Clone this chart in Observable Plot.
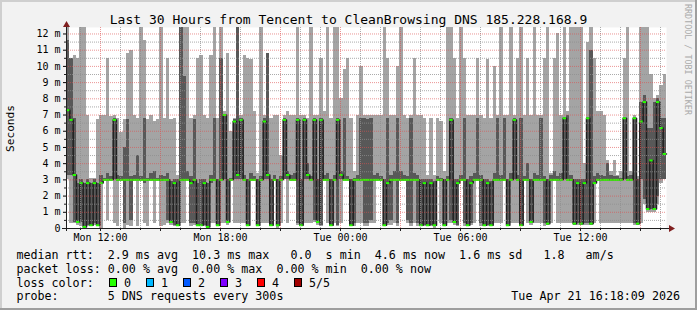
<!DOCTYPE html>
<html>
<head>
<meta charset="utf-8">
<script src="https://cdn.jsdelivr.net/npm/d3@7"></script>
<script src="https://cdn.jsdelivr.net/npm/@observablehq/plot@0.6"></script>
<style>
  html, body { margin: 0; padding: 0; background: #f2f2f2; }
  svg text { white-space: pre; }
</style>
</head>
<body>
<div id="chart"></div>
<script>
// 10-minute steps, Mon 2026-04-20 10:18 UTC .. Tue 2026-04-21 16:18 UTC
const startTime = Date.UTC(2026, 3, 20, 10, 18);
const endTime = Date.UTC(2026, 3, 21, 16, 18);
const STEP = 10 * 60 * 1000;

// ping 1 (min), ping 2, median, ping 4, ping 5 (max) in ms
const pMin = [
3.0,0.3,0.3,0.2,0.1,0.1,0.1,0.1,0.2,0.1,
0.0,3.0,0.5,3.0,0.3,0.1,3.0,0.0,0.2,0.1,
3.0,0.1,3.0,0.3,0.1,3.0,0.3,3.0,0.1,0.2,
0.3,0.2,0.1,0.1,0.3,0.3,3.0,0.1,0.2,0.1,
0.1,0.1,0.1,0.3,0.3,0.1,0.3,0.3,0.2,3.0,
0.3,0.3,0.3,0.3,0.1,3.0,3.0,0.1,0.3,0.3,
0.3,0.1,3.0,0.0,0.3,3.0,0.3,3.0,3.0,0.2,
0.1,0.3,0.3,0.3,0.4,0.2,0.1,3.0,0.3,0.1,
0.3,0.1,0.3,3.0,3.0,0.1,0.1,0.3,0.3,0.1,
0.1,0.3,0.3,3.0,3.0,0.1,0.2,0.2,0.3,0.1,
3.0,3.0,0.3,0.1,0.3,0.1,0.1,0.1,0.1,0.1,
0.0,3.0,0.3,0.1,0.3,0.3,0.2,0.1,3.0,0.1,
0.1,0.2,0.3,3.0,0.1,0.1,0.1,0.1,0.3,0.3,
0.3,3.0,0.1,0.3,0.3,0.3,0.1,3.0,0.3,0.2,
0.3,0.3,0.3,0.1,0.2,0.3,3.0,0.3,0.3,0.3,
0.3,0.3,0.2,0.2,0.2,0.2,0.2,0.2,0.3,3.0,
0.3,0.3,0.3,0.3,0.3,0.3,0.3,0.3,0.3,0.3,
0.2,0.2,0.3,1.5,1.0,1.0,1.0,1.5,2.8,3.0];
const p2 = [
3.3,3.3,0.4,0.4,0.4,0.1,0.2,0.2,0.3,0.2,
2.8,3.0,2.9,3.0,3.0,2.9,3.0,0.3,3.0,0.5,
3.0,3.0,3.0,2.8,2.9,3.0,3.0,3.0,2.9,3.0,
0.5,0.3,0.2,0.2,3.0,2.9,3.0,0.3,0.3,0.2,
0.2,0.2,0.1,2.8,3.0,0.2,3.0,3.0,0.4,3.0,
3.0,3.0,3.0,3.0,0.2,3.0,3.0,0.2,2.9,3.0,
3.0,0.2,3.0,0.2,3.0,3.0,3.0,3.0,3.0,0.3,
0.2,3.0,3.0,3.0,0.5,0.4,0.2,3.0,3.0,0.2,
3.0,0.2,3.0,3.0,3.0,0.2,0.3,3.0,3.0,0.3,
0.3,0.5,2.9,3.0,3.0,0.2,0.3,0.5,3.0,0.3,
3.0,3.0,0.5,0.3,3.0,0.3,0.2,0.2,0.2,0.2,
0.2,3.0,2.9,0.2,3.0,0.5,0.4,0.2,3.0,0.3,
0.2,0.3,3.0,3.0,0.3,0.2,0.2,0.2,3.0,3.0,
3.0,3.0,0.2,3.0,3.0,3.0,0.2,3.0,2.9,0.4,
3.0,3.0,3.0,0.3,0.3,3.0,3.0,2.9,3.0,3.0,
3.0,2.9,0.3,0.3,0.3,0.3,0.3,0.3,2.8,3.0,
3.0,3.0,3.0,3.0,3.0,3.0,3.0,3.0,3.0,3.0,
0.3,0.3,3.0,1.8,1.2,1.2,1.2,2.0,3.0,3.0];
const pMed = [
7.3,6.7,3.3,0.4,2.8,0.1,2.8,0.2,2.8,0.2,
2.8,3.0,3.0,3.0,6.7,3.0,3.0,3.0,3.0,3.0,
3.0,3.0,3.0,3.0,3.0,3.0,3.0,3.0,3.0,3.0,
3.0,0.4,2.8,0.2,3.0,3.0,3.0,2.8,3.0,0.2,
0.2,2.8,0.1,3.0,3.0,0.2,3.0,7.0,0.4,3.0,
6.6,3.3,6.7,3.0,0.2,3.0,3.0,0.2,3.0,6.6,
3.3,0.2,3.0,0.2,3.0,6.7,3.3,3.0,3.0,6.7,
0.2,6.7,3.3,3.0,6.7,0.4,6.7,3.0,3.0,0.2,
3.0,6.7,3.3,3.0,3.0,0.2,3.0,3.0,3.0,3.0,
3.0,3.0,3.0,3.0,3.0,0.2,2.8,3.0,3.0,3.0,
3.0,3.0,3.0,3.0,3.0,3.0,0.2,2.8,0.2,2.8,
0.2,3.0,3.0,0.2,3.0,6.7,0.4,2.8,3.0,3.0,
0.2,2.8,3.0,3.0,3.0,0.2,2.8,0.2,3.0,3.0,
3.0,3.0,0.2,3.0,6.7,3.0,0.2,3.0,3.0,0.4,
3.0,3.0,3.0,3.0,0.3,3.0,3.0,3.0,3.0,6.8,
3.0,3.0,0.3,2.8,0.3,2.8,6.8,0.3,2.8,3.0,
3.0,3.0,3.0,3.0,3.0,3.0,3.0,6.8,3.0,3.0,
6.8,0.3,6.6,7.8,1.2,4.2,1.2,7.8,6.2,4.6];
const p4 = [
11.6,10.5,6.8,2.8,3.0,2.8,3.0,2.8,3.0,2.8,
3.3,3.1,3.4,3.2,6.8,3.3,3.2,5.0,6.7,3.2,
3.3,4.5,3.2,6.8,3.1,3.4,3.5,3.1,3.3,3.2,
3.4,2.9,3.0,3.0,12.5,9.4,3.5,3.2,6.7,2.8,
3.0,3.0,2.8,3.3,6.8,3.0,10.5,7.0,3.0,3.1,
6.7,12.5,6.8,3.3,3.0,3.4,3.2,3.0,3.2,6.8,
10.8,3.0,3.3,3.0,3.2,6.8,3.5,3.3,3.4,6.8,
3.0,6.8,4.0,3.2,6.8,3.0,6.8,3.3,3.4,3.0,
3.3,6.8,3.5,6.8,3.2,3.0,3.1,3.3,6.8,6.8,
6.7,6.8,3.3,3.4,3.2,3.0,6.8,3.3,3.5,6.8,
3.5,3.3,3.2,6.8,3.4,3.3,3.0,3.0,3.0,3.0,
2.9,3.2,3.1,3.0,3.2,6.8,3.0,3.0,3.3,6.8,
3.0,3.2,3.4,6.8,3.3,3.0,3.0,2.9,3.4,6.8,
3.3,6.8,3.0,3.4,6.8,3.3,6.8,3.2,4.0,3.0,
3.4,3.3,6.8,3.2,3.0,3.3,3.5,3.2,3.4,6.8,
7.0,3.3,3.0,3.0,3.0,3.0,6.8,11.0,3.2,3.4,
3.3,3.2,4.0,3.3,3.2,3.2,3.1,6.8,3.2,3.3,
6.8,3.0,7.8,8.2,6.2,6.2,7.8,8.0,6.8,6.8];
const pMax = [
12.5,10.5,10.7,10.5,12.5,12.5,7.0,3.1,3.1,6.7,
7.0,7.0,10.5,6.9,7.0,6.8,5.9,6.7,10.8,11.0,
7.0,6.8,12.5,11.6,6.7,7.0,6.6,6.7,12.5,6.8,
10.5,6.7,6.8,3.3,12.5,12.5,12.5,6.8,7.0,10.5,
10.7,7.0,6.8,10.7,12.5,6.8,12.5,7.2,10.8,6.0,
6.8,12.5,7.0,10.7,10.5,10.4,7.2,3.4,12.5,7.0,
10.8,6.8,7.0,7.0,4.5,7.0,7.2,7.0,7.0,12.5,
7.0,7.0,6.8,12.5,7.0,7.0,10.5,7.2,12.5,6.8,
12.5,12.5,8.0,9.8,10.5,6.8,3.5,7.0,10.0,7.0,
7.0,7.0,7.0,7.0,7.0,12.5,10.5,7.0,7.0,10.0,
12.5,7.0,6.8,7.0,10.5,7.0,7.0,6.8,3.3,6.8,
3.3,6.8,6.6,3.5,12.5,12.5,10.5,6.8,12.5,10.5,
7.0,7.0,7.0,10.5,7.0,6.8,10.4,6.8,10.0,7.0,
12.5,7.0,7.0,12.5,7.0,10.5,12.5,7.0,10.5,7.0,
12.5,7.0,7.0,10.5,12.5,3.4,10.5,12.0,7.0,12.5,
7.2,12.5,12.5,12.5,12.5,4.0,11.5,12.5,10.5,7.2,
7.2,7.0,4.2,3.5,4.2,3.3,3.5,10.5,12.5,3.5,
7.0,3.2,12.5,12.5,12.5,9.5,8.0,8.2,8.8,9.5];

const yTicks = [0,1,2,3,4,5,6,7,8,9,10,11,12];
const yMinor = [0.5,1.5,2.5,3.5,4.5,5.5,6.5,7.5,8.5,9.5,10.5,11.5];
const xTicks = [Date.UTC(2026,3,20,12), Date.UTC(2026,3,20,18), Date.UTC(2026,3,21,0), Date.UTC(2026,3,21,6), Date.UTC(2026,3,21,12)].map(d => new Date(d));
const hours = d3.utcHour.range(new Date(startTime), new Date(endTime));
const xMajor = hours.filter(d => d.getUTCHours() % 3 === 0);
const xMinor = hours.filter(d => d.getUTCHours() % 3 !== 0);

const titleText = "Last 30 Hours from Tencent to CleanBrowsing DNS 185.228.168.9";
const legendRows = [
  "median rtt:  2.9 ms avg  10.3 ms max   0.0  s min  4.6 ms now  1.6 ms sd   1.8   am/s",
  "packet loss: 0.00 % avg  0.00 % max  0.00 % min  0.00 % now",
  "loss color:",
  "probe:       5 DNS requests every 300s"
];
const lossLabels = ["0", "1", "2", "3", "4", "5/5"];
const lossColors = ["#26ff00", "#00b8ff", "#0059ff", "#7e00ff", "#ff0000", "#a10000"];
const dateText = "Tue Apr 21 16:18:09 2026";

const idx = d3.range(pMed.length);
const T0 = i => new Date(startTime + i * STEP);
const T1 = i => new Date(startTime + (i + 1) * STEP);
const lineIdx = d3.range(pMed.length + 1);

const W = 697, H = 310, ML = 66, MR = 31, MT = 27, MB = 82;

const chart = Plot.plot({
  width: W, height: H,
  marginLeft: ML, marginRight: MR, marginTop: MT, marginBottom: MB,
  style: {background: "#f2f2f2", fontFamily: "DejaVu Sans Mono", fontSize: "10px", color: "#000", overflow: "visible"},
  x: {type: "utc", domain: [new Date(startTime), new Date(endTime)], ticks: xTicks,
      tickFormat: d3.utcFormat("%a %H:%M"), tickSize: 3, tickPadding: 2, label: null},
  y: {domain: [0, 12.4], clamp: true, ticks: yTicks, tickFormat: d => d === 0 ? "0" : d + " m",
      tickSize: 3, tickPadding: 3, label: null},
  marks: [
    Plot.frame({fill: "white", stroke: null}),
    Plot.rect(idx, {x1: T0, x2: T1, y1: i => pMin[i], y2: i => pMax[i], fill: "#a4a4a4", shapeRendering: "crispEdges"}),
    Plot.rect(idx, {x1: T0, x2: T1, y1: i => p2[i], y2: i => p4[i], fill: "#585858", shapeRendering: "crispEdges"}),
    Plot.line(lineIdx, {x: i => new Date(startTime + i * STEP), y: i => pMed[Math.min(i, pMed.length - 1)],
      curve: "step-after", stroke: "#202020", strokeWidth: 1.5}),
    Plot.ruleY(idx, {x1: T0, x2: T1, y: i => pMed[i], stroke: "#26ff00", strokeWidth: 2}),
    Plot.ruleY(yMinor, {stroke: "rgba(143,143,143,0.75)", strokeDasharray: "1,1"}),
    Plot.ruleX(xMinor, {stroke: "rgba(143,143,143,0.75)", strokeDasharray: "1,1"}),
    Plot.ruleY(yTicks.filter(d => d > 0), {stroke: "rgba(222,79,79,0.6)", strokeDasharray: "1,1"}),
    Plot.ruleX(xMajor, {stroke: "rgba(222,79,79,0.6)", strokeDasharray: "1,1"})
  ]
});

document.getElementById("chart").appendChild(chart);

const svg = d3.select(chart);
const X = d3.scaleUtc([new Date(startTime), new Date(endTime)], [ML, W - MR]);
const Y = d3.scaleLinear([0, 12.4], [H - MB, MT]);
const axisCol = "#1f1f1f", arrowCol = "#801f1f";
const g = svg.append("g").attr("text-anchor", "start");

// 3D border
g.append("rect").attr("x", 0).attr("y", 0).attr("width", W).attr("height", 2).attr("fill", "#cfcfcf");
g.append("rect").attr("x", 0).attr("y", 0).attr("width", 2).attr("height", H).attr("fill", "#cfcfcf");
g.append("rect").attr("x", 0).attr("y", H - 2).attr("width", W).attr("height", 2).attr("fill", "#9e9e9e");
g.append("rect").attr("x", W - 2).attr("y", 0).attr("width", 2).attr("height", H).attr("fill", "#9e9e9e");

// minor ticks
hours.forEach(h => {
  g.append("line").attr("x1", X(h) + 0.5).attr("x2", X(h) + 0.5)
    .attr("y1", Y(0)).attr("y2", Y(0) + (h.getUTCHours() % 3 === 0 ? 3 : 2)).attr("stroke", axisCol);
});
yMinor.forEach(v => {
  g.append("line").attr("x1", ML - 2).attr("x2", ML).attr("y1", Y(v) + 0.5).attr("y2", Y(v) + 0.5).attr("stroke", axisCol);
});

// axes
g.append("line").attr("x1", ML - 4).attr("x2", W - MR + 3).attr("y1", Y(0) + 0.5).attr("y2", Y(0) + 0.5).attr("stroke", axisCol);
g.append("line").attr("x1", ML + 0.5).attr("x2", ML + 0.5).attr("y1", Y(0) + 3).attr("y2", MT).attr("stroke", axisCol);
const ax = W - MR + 3, ay = Y(0) + 0.5;
g.append("path").attr("d", `M${ax},${ay - 3.5}L${ax + 6},${ay}L${ax},${ay + 3.5}Z`).attr("fill", arrowCol);
const tx = ML + 0.5, ty = MT;
g.append("path").attr("d", `M${tx - 3.5},${ty}L${tx},${ty - 6}L${tx + 3.5},${ty}Z`).attr("fill", arrowCol);

const font = "DejaVu Sans Mono";
// title
g.append("text").attr("x", 348.5).attr("y", 24).attr("text-anchor", "middle")
  .attr("font-family", font).attr("font-size", 13).attr("fill", "#000").text(titleText);

// y unit label
g.append("text").attr("transform", "translate(13.5,128.5) rotate(-90)").attr("text-anchor", "middle")
  .attr("font-family", font).attr("font-size", 11.1).attr("fill", "#000").text("Seconds");

// watermark
g.append("text").attr("transform", "translate(685,4) rotate(90)").attr("text-anchor", "start")
  .attr("font-family", font).attr("font-size", 8.4).attr("fill", "#aaaaaa").text("RRDTOOL / TOBI OETIKER");

// legend rows
const rowY = [258.5, 272.5, 286.5, 300];
legendRows.forEach((s, k) => {
  g.append("text").attr("x", 16.4).attr("y", rowY[k]).attr("text-anchor", "start")
    .attr("font-family", font).attr("font-size", 11.68).attr("fill", "#000").text(s);
});
g.append("text").attr("x", 680).attr("y", rowY[3]).attr("text-anchor", "end")
  .attr("font-family", font).attr("font-size", 11.68).attr("fill", "#000").text(dateText);

lossLabels.forEach((lab, k) => {
  const bx = 109 + k * 37;
  g.append("rect").attr("x", bx + 0.5).attr("y", 278.5).attr("width", 7).attr("height", 8)
    .attr("fill", lossColors[k]).attr("stroke", "#000").attr("stroke-width", 1);
  g.append("text").attr("x", bx + 15).attr("y", rowY[2]).attr("text-anchor", "start")
    .attr("font-family", font).attr("font-size", 11.68).attr("fill", "#000").text(lab);
});
</script>
</body>
</html>
